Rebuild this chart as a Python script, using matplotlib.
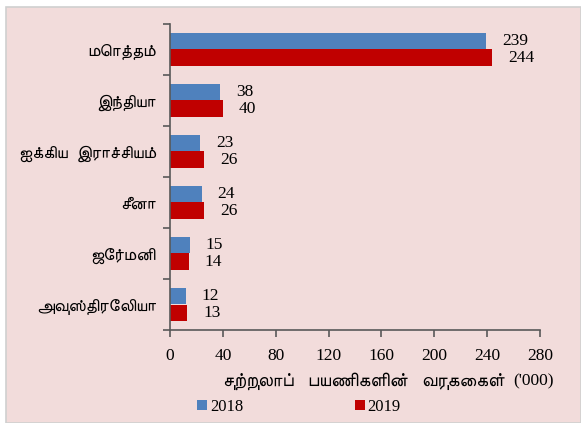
import numpy as np
import matplotlib
matplotlib.use("Agg")
import matplotlib.pyplot as plt
from matplotlib.patches import Rectangle

countries = ["மொத்தம்", "இந்தியா", "ஐக்கிய  இராச்சியம்", "சீனா", "ஜேர்மனி", "அவுஸ்திரேலியா"]
arrivals_2018 = [239, 38, 23, 24, 15, 12]
arrivals_2019 = [244, 40, 26, 26, 14, 13]
x_ticks = [0, 40, 80, 120, 160, 200, 240, 280]
x_label = "சுற்றுலாப்   பயணிகளின்   வருகைகள்"
x_unit = "('000)"

# FreeSans is the installed font whose Tamil comes out readable
tamil_family = ["FreeSans", "DejaVu Sans"]
serif = ["Liberation Serif", "DejaVu Serif"]

pink = "#F2DCDB"
blue = "#4F81BD"
red = "#C00000"

fig = plt.figure(figsize=(5.81, 4.23), dpi=100, facecolor="white")
W, H = 581, 423
fig.patches.append(Rectangle((6 / W, 0), 1 - 6 / W, 1 - 7 / H, transform=fig.transFigure,
                             facecolor=pink, edgecolor="#D0D0D0", linewidth=1.2, zorder=-10))

ax = fig.add_axes([170 / W, 1 - 330 / H, 370 / W, 306 / H])
ax.set_facecolor("none")

y = np.arange(len(countries))
h = 0.32
ax.barh(y - h / 2, arrivals_2018, height=h, color=blue, label="2018")
ax.barh(y + h / 2, arrivals_2019, height=h, color=red, label="2019")

for yi, v in zip(y, arrivals_2018):
    ax.annotate(str(v), (v, yi - h / 2), xytext=(11.5, 0), textcoords="offset points",
                ha="left", va="center", family=serif, fontsize=12.5)
for yi, v in zip(y, arrivals_2019):
    ax.annotate(str(v), (v, yi + h / 2), xytext=(11.5, 0), textcoords="offset points",
                ha="left", va="center", family=serif, fontsize=12.5)

ax.set_ylim(len(countries) - 0.5, -0.5)
ax.set_xlim(0, 280)
ax.set_xticks(x_ticks)
ax.set_xticklabels([str(t) for t in x_ticks], family=serif, fontsize=12.5)
ax.set_yticks(np.arange(len(countries) + 1) - 0.5)
ax.set_yticklabels([])
ax.set_yticks(y, minor=True)
ax.set_yticklabels(countries, minor=True, family=tamil_family, fontsize=12.5)
ax.tick_params(axis="y", which="minor", length=0, pad=10)
ax.tick_params(axis="y", which="major", length=5, width=1.2, color="#595959")
ax.tick_params(axis="x", length=5, width=1.2, color="#595959", pad=8)

for s in ["top", "right"]:
    ax.spines[s].set_visible(False)
for s in ["left", "bottom"]:
    ax.spines[s].set_color("#595959")
    ax.spines[s].set_linewidth(1.2)

fig.text(505 / W, 1 - 381 / H, x_label, ha="right", va="center",
         family=tamil_family, fontsize=13.5)
fig.text(513 / W, 1 - 381 / H, x_unit, ha="left", va="center",
         family=serif, fontsize=12.5)

leg = fig.legend(loc="center", bbox_to_anchor=(299 / W, 1 - 407 / H), ncol=2,
                 frameon=False, prop={"family": serif, "size": 12},
                 handlelength=0.6, handleheight=0.6, handletextpad=0.15,
                 columnspacing=6.7)

fig.savefig("out.png", dpi=100, facecolor=fig.get_facecolor())
